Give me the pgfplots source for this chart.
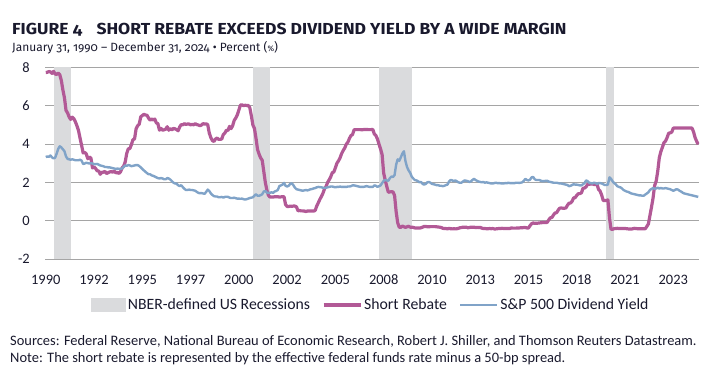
\documentclass[border=0pt]{standalone}
\usepackage{pgfplots}
\pgfplotsset{compat=1.18}
\usepackage{pgfplotstable}
\usepackage{fontspec}
\usepackage{graphicx}
\setmainfont{Carlito}
\newfontfamily\titlefont[Numbers=OldStyle]{Fira Sans}
\definecolor{srcol}{RGB}{178,89,150}
\definecolor{dycol}{RGB}{128,163,200}
\definecolor{recgray}{RGB}{218,219,221}
\definecolor{gridgray}{RGB}{165,165,165}
\definecolor{txt}{RGB}{25,25,45}

% Short rebate (effective fed funds rate minus 50 bp), monthly Jan 1990 - Dec 2024
\pgfplotstableread[row sep=\\]{sr\\
7.73\\7.74\\7.78\\7.76\\7.68\\7.79\\7.65\\7.63\\7.70\\7.61\\7.31\\6.81\\
6.41\\5.75\\5.62\\5.41\\5.28\\5.40\\5.32\\5.16\\4.95\\4.71\\4.31\\3.93\\
3.53\\3.56\\3.48\\3.23\\3.32\\3.26\\2.75\\2.80\\2.72\\2.60\\2.59\\2.42\\
2.52\\2.53\\2.57\\2.46\\2.50\\2.54\\2.56\\2.53\\2.59\\2.49\\2.52\\2.46\\
2.55\\2.75\\2.84\\3.06\\3.51\\3.75\\3.76\\3.97\\4.23\\4.26\\4.79\\4.95\\
5.03\\5.42\\5.48\\5.55\\5.51\\5.50\\5.35\\5.24\\5.30\\5.26\\5.30\\5.10\\
5.06\\4.72\\4.81\\4.72\\4.74\\4.77\\4.90\\4.72\\4.80\\4.74\\4.81\\4.79\\
4.75\\4.69\\4.89\\5.01\\5.00\\5.06\\5.02\\5.04\\5.04\\5.00\\5.02\\5.00\\
5.06\\5.01\\4.99\\4.95\\4.99\\5.06\\5.04\\5.05\\5.01\\4.57\\4.33\\4.18\\
4.13\\4.26\\4.31\\4.24\\4.24\\4.26\\4.49\\4.57\\4.72\\4.70\\4.92\\4.80\\
4.95\\5.23\\5.35\\5.52\\5.77\\6.03\\6.04\\6.00\\6.02\\6.01\\6.01\\5.90\\
5.48\\4.99\\4.81\\4.30\\3.71\\3.47\\3.27\\3.15\\2.57\\1.99\\1.59\\1.32\\
1.23\\1.24\\1.23\\1.25\\1.25\\1.25\\1.23\\1.24\\1.25\\1.25\\0.84\\0.74\\
0.74\\0.76\\0.75\\0.76\\0.76\\0.72\\0.51\\0.53\\0.51\\0.51\\0.50\\0.48\\
0.50\\0.51\\0.50\\0.50\\0.50\\0.53\\0.76\\0.93\\1.11\\1.26\\1.43\\1.66\\
1.78\\2.00\\2.13\\2.29\\2.50\\2.54\\2.76\\3.00\\3.12\\3.28\\3.50\\3.66\\
3.79\\3.99\\4.09\\4.29\\4.44\\4.49\\4.74\\4.75\\4.75\\4.75\\4.75\\4.74\\
4.75\\4.76\\4.76\\4.75\\4.75\\4.75\\4.76\\4.52\\4.44\\4.26\\3.99\\3.74\\
3.44\\2.48\\2.11\\1.78\\1.48\\1.50\\1.51\\1.50\\1.31\\0.47\\-0.11\\-0.34\\
-0.35\\-0.28\\-0.32\\-0.35\\-0.32\\-0.29\\-0.34\\-0.34\\-0.35\\-0.38\\-0.38\\-0.38\\
-0.39\\-0.37\\-0.34\\-0.30\\-0.30\\-0.32\\-0.32\\-0.31\\-0.31\\-0.31\\-0.31\\-0.32\\
-0.33\\-0.34\\-0.36\\-0.40\\-0.41\\-0.41\\-0.43\\-0.40\\-0.42\\-0.43\\-0.42\\-0.43\\
-0.42\\-0.40\\-0.37\\-0.36\\-0.34\\-0.34\\-0.34\\-0.37\\-0.36\\-0.34\\-0.34\\-0.34\\
-0.36\\-0.35\\-0.36\\-0.35\\-0.39\\-0.41\\-0.41\\-0.42\\-0.42\\-0.41\\-0.42\\-0.41\\
-0.43\\-0.43\\-0.42\\-0.41\\-0.41\\-0.40\\-0.41\\-0.41\\-0.41\\-0.41\\-0.41\\-0.38\\
-0.39\\-0.39\\-0.39\\-0.38\\-0.38\\-0.37\\-0.37\\-0.36\\-0.36\\-0.38\\-0.38\\-0.26\\
-0.16\\-0.12\\-0.14\\-0.13\\-0.13\\-0.12\\-0.11\\-0.10\\-0.10\\-0.10\\-0.09\\0.04\\
0.15\\0.16\\0.29\\0.40\\0.41\\0.54\\0.65\\0.66\\0.65\\0.65\\0.66\\0.80\\
0.91\\0.92\\1.01\\1.19\\1.20\\1.32\\1.41\\1.41\\1.45\\1.69\\1.70\\1.77\\
1.90\\1.90\\1.91\\1.92\\1.89\\1.88\\1.90\\1.63\\1.54\\1.33\\1.05\\1.05\\
1.05\\1.08\\0.15\\-0.45\\-0.45\\-0.42\\-0.41\\-0.40\\-0.41\\-0.41\\-0.41\\-0.41\\
-0.41\\-0.42\\-0.43\\-0.43\\-0.44\\-0.42\\-0.40\\-0.41\\-0.42\\-0.42\\-0.42\\-0.42\\
-0.42\\-0.42\\-0.30\\-0.17\\0.27\\0.71\\1.18\\1.83\\2.06\\2.58\\3.28\\3.60\\
3.83\\4.07\\4.15\\4.33\\4.56\\4.58\\4.62\\4.83\\4.83\\4.83\\4.83\\4.83\\
4.83\\4.83\\4.83\\4.83\\4.83\\4.83\\4.83\\4.83\\4.63\\4.33\\4.14\\3.98\\
}\srdata

% S&P 500 dividend yield, monthly Jan 1990 - Dec 2024
\pgfplotstableread[row sep=\\]{dy\\
3.32\\3.35\\3.33\\3.40\\3.30\\3.25\\3.28\\3.50\\3.75\\3.88\\3.82\\3.72\\
3.62\\3.35\\3.22\\3.20\\3.18\\3.20\\3.18\\3.15\\3.15\\3.15\\3.18\\3.13\\
2.96\\2.98\\3.02\\3.00\\2.98\\3.00\\2.98\\2.95\\2.95\\2.96\\2.92\\2.88\\
2.86\\2.84\\2.80\\2.80\\2.78\\2.78\\2.76\\2.74\\2.72\\2.70\\2.72\\2.70\\
2.70\\2.72\\2.80\\2.88\\2.86\\2.90\\2.88\\2.84\\2.86\\2.88\\2.90\\2.90\\
2.85\\2.78\\2.70\\2.62\\2.55\\2.48\\2.42\\2.42\\2.36\\2.34\\2.30\\2.26\\
2.22\\2.20\\2.22\\2.20\\2.16\\2.16\\2.22\\2.20\\2.14\\2.06\\1.98\\1.94\\
1.93\\1.85\\1.80\\1.85\\1.75\\1.66\\1.60\\1.60\\1.62\\1.60\\1.60\\1.58\\
1.56\\1.50\\1.45\\1.43\\1.44\\1.42\\1.40\\1.50\\1.62\\1.55\\1.42\\1.34\\
1.28\\1.26\\1.26\\1.22\\1.22\\1.24\\1.20\\1.24\\1.25\\1.24\\1.20\\1.18\\
1.18\\1.20\\1.17\\1.15\\1.15\\1.14\\1.15\\1.12\\1.10\\1.12\\1.15\\1.18\\
1.20\\1.22\\1.30\\1.38\\1.30\\1.30\\1.33\\1.38\\1.52\\1.55\\1.46\\1.45\\
1.45\\1.48\\1.45\\1.52\\1.55\\1.60\\1.80\\1.84\\1.88\\1.97\\1.82\\1.78\\
1.82\\1.92\\1.95\\1.85\\1.72\\1.64\\1.62\\1.60\\1.58\\1.56\\1.58\\1.60\\
1.58\\1.60\\1.64\\1.65\\1.68\\1.70\\1.74\\1.76\\1.75\\1.74\\1.72\\1.70\\
1.72\\1.74\\1.76\\1.78\\1.78\\1.76\\1.74\\1.76\\1.76\\1.78\\1.76\\1.76\\
1.76\\1.76\\1.78\\1.78\\1.80\\1.84\\1.84\\1.82\\1.80\\1.78\\1.76\\1.76\\
1.76\\1.78\\1.80\\1.78\\1.76\\1.76\\1.76\\1.84\\1.82\\1.76\\1.80\\1.84\\
1.96\\2.08\\2.12\\2.10\\2.08\\2.22\\2.30\\2.28\\2.38\\2.92\\3.20\\3.12\\
3.30\\3.50\\3.62\\3.10\\2.80\\2.62\\2.50\\2.30\\2.20\\2.12\\2.10\\2.06\\
2.00\\2.02\\1.92\\1.88\\1.92\\2.00\\2.02\\1.98\\1.92\\1.90\\1.88\\1.85\\
1.85\\1.82\\1.82\\1.80\\1.82\\1.86\\1.88\\2.05\\2.12\\2.10\\2.06\\2.10\\
2.05\\2.00\\1.98\\1.98\\2.05\\2.10\\2.08\\2.06\\2.02\\2.05\\2.12\\2.18\\
2.12\\2.08\\2.04\\2.02\\2.00\\2.02\\1.98\\2.00\\1.98\\1.96\\1.94\\1.94\\
1.96\\1.98\\1.96\\1.96\\1.95\\1.94\\1.94\\1.96\\1.95\\1.98\\1.96\\1.96\\
1.96\\1.96\\1.98\\1.98\\1.97\\1.98\\2.00\\2.08\\2.18\\2.12\\2.10\\2.14\\
2.26\\2.28\\2.16\\2.12\\2.12\\2.12\\2.08\\2.06\\2.06\\2.08\\2.08\\2.04\\
2.02\\2.00\\1.98\\1.98\\1.98\\1.96\\1.94\\1.94\\1.92\\1.90\\1.88\\1.86\\
1.80\\1.82\\1.86\\1.90\\1.88\\1.88\\1.86\\1.84\\1.84\\1.90\\1.96\\2.10\\
2.06\\1.98\\1.96\\1.94\\1.98\\1.96\\1.92\\1.96\\1.96\\1.94\\1.90\\1.86\\
1.86\\1.88\\2.26\\2.18\\2.05\\1.96\\1.90\\1.80\\1.76\\1.74\\1.68\\1.60\\
1.56\\1.52\\1.50\\1.46\\1.42\\1.40\\1.38\\1.36\\1.34\\1.32\\1.32\\1.30\\
1.30\\1.36\\1.42\\1.48\\1.60\\1.66\\1.70\\1.66\\1.68\\1.72\\1.68\\1.70\\
1.68\\1.68\\1.70\\1.68\\1.66\\1.64\\1.60\\1.56\\1.60\\1.64\\1.62\\1.56\\
1.52\\1.46\\1.42\\1.40\\1.38\\1.36\\1.34\\1.32\\1.30\\1.28\\1.26\\1.24\\
}\dydata

\begin{document}
\begin{tikzpicture}
\path[use as bounding box] (0bp,0bp) rectangle (717bp,375bp);
\node[anchor=base west, inner sep=0, text=txt] at (12bp,340.7bp)
  {\scalebox{1.1}[1]{\titlefont\bfseries\fontsize{16}{18}\selectfont FIGURE 4\hspace{13bp}SHORT REBATE EXCEEDS DIVIDEND YIELD BY A WIDE MARGIN}};
\node[anchor=base west, inner sep=0, text=txt] at (12bp,323.7bp)
  {\titlefont\fontsize{12}{14}\selectfont January 31, 1990 – December 31, 2024 • Percent ({\footnotesize\%})};
\node[anchor=base west, inner sep=0, text=txt] at (10bp,30bp)
  {\fontsize{14.5}{16}\selectfont Sources: Federal Reserve, National Bureau of Economic Research, Robert J. Shiller, and Thomson Reuters Datastream.};
\node[anchor=base west, inner sep=0, text=txt] at (10bp,13bp)
  {\fontsize{14.5}{16}\selectfont Note: The short rebate is represented by the effective federal funds rate minus a 50-bp spread.};
\begin{axis}[
  at={(45bp,116bp)}, anchor=south west,
  scale only axis, width=654bp, height=191.7bp,
  xmin=-0.5, xmax=419.5, ymin=-2, ymax=8,
  ytick={-2,0,2,4,6,8},
  xtick={0,31,62,93,124,155,186,217,248,279,310,341,372,403},
  xticklabels={1990,1992,1995,1997,2000,2002,2005,2008,2010,2013,2015,2018,2021,2023},
  axis line style={draw=none},
  major tick length=0pt,
  ymajorgrids, grid style={gridgray, line width=0.8bp},
  tick label style={font=\fontsize{14.5}{16}\selectfont, text=txt},
  /pgf/number format/assume math mode=true,
  yticklabel style={anchor=east, inner sep=0pt, xshift=-15bp},
  xticklabel style={anchor=north, inner sep=0pt, yshift=-15.5bp},
  legend columns=3,
  legend cell align=left,
  legend style={at={(0.498,-0.24)}, anchor=center, draw=none, fill=none,
    font=\fontsize{15.8}{17}\selectfont, text=txt,
    /tikz/every even column/.append style={column sep=10bp}},
]
\addplot[fill=recgray, draw=none, area legend,
  legend image code/.code={\fill[recgray] (0bp,-7bp) rectangle (35bp,7bp);}]
  coordinates {(5.1,-2.1) (5.1,8) (16.5,8) (16.5,-2.1)} -- cycle;
\addlegendentry{NBER-defined US Recessions}
\addplot[fill=recgray, draw=none, forget plot]
  coordinates {(133,-2.1) (133,8) (144.3,8) (144.3,-2.1)} -- cycle;
\addplot[fill=recgray, draw=none, forget plot]
  coordinates {(213.9,-2.1) (213.9,8) (234.9,8) (234.9,-2.1)} -- cycle;
\addplot[fill=recgray, draw=none, forget plot]
  coordinates {(360,-2.1) (360,8) (365.2,8) (365.2,-2.1)} -- cycle;
\addplot[srcol, line width=3.2bp, line join=round,
  legend image code/.code={\draw[srcol, line width=3.2bp] (0bp,0bp) -- (37bp,0bp);}]
  table[x expr=\coordindex, y=sr] {\srdata};
\addlegendentry{Short Rebate}
\addplot[dycol, line width=2.4bp, line join=round,
  legend image code/.code={\draw[dycol, line width=2.4bp] (0bp,0bp) -- (37bp,0bp);}]
  table[x expr=\coordindex, y=dy] {\dydata};
\addlegendentry{S\&P 500 Dividend Yield}
\end{axis}
\end{tikzpicture}
\end{document}
